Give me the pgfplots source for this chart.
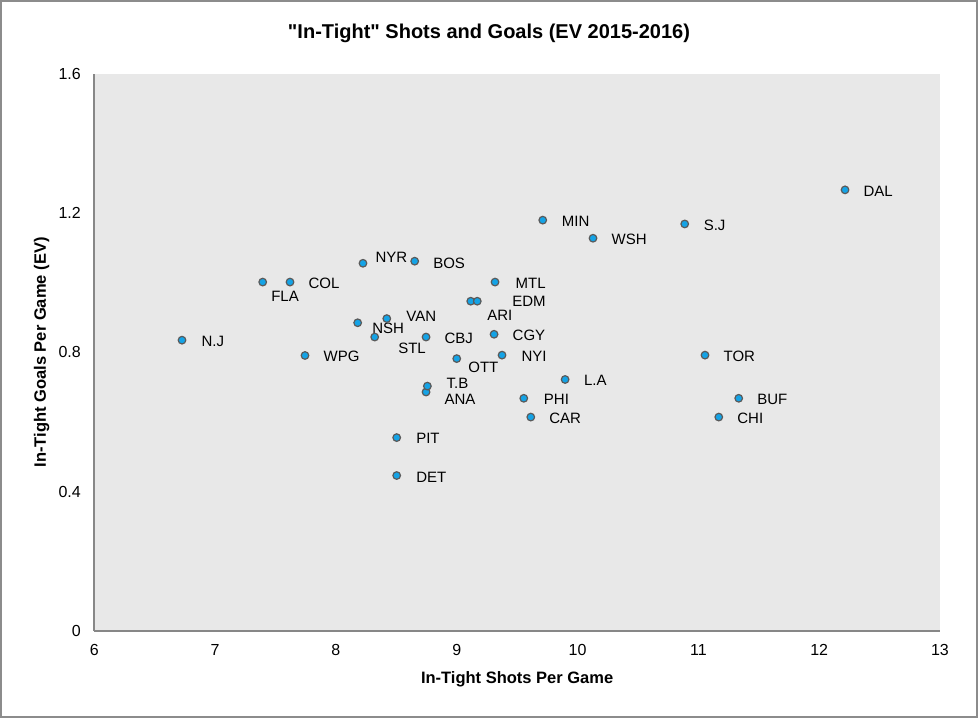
\documentclass[border=0pt]{standalone}
\usepackage{fontspec}
\setmainfont{Liberation Sans}
\usepackage{pgfplots}
\usepackage{pgfplotstable}
\pgfplotsset{compat=1.18}
\definecolor{bggray}{HTML}{E8E8E8}
\definecolor{axgray}{HTML}{878787}
\definecolor{framegray}{HTML}{8C8C8C}
\definecolor{dotblue}{RGB}{20,163,230}
\definecolor{dotedge}{HTML}{5A5A5A}
\pgfplotstableread{
x y label dx dy
6.726 0.835 N.J 19 -1
7.394 1.002 FLA 8 -14
7.620 1.002 COL 18 -1
7.744 0.791 WPG 18 -1
8.180 0.885 NSH 14 -5.4
8.224 1.056 NYR 12 6
8.321 0.844 STL 23 -11
8.421 0.897 VAN 19 2
8.503 0.555 PIT 19 -1
8.503 0.446 DET 19 -1.5
8.652 1.062 BOS 18 -2
8.746 0.844 CBJ 18 -1
8.746 0.686 ANA 18 -7.3
8.757 0.703 T.B 18.7 3
9.000 0.782 OTT 11 -8.4
9.116 0.947 ARI 16 -14
9.170 0.947 EDM 34.4 0
9.309 0.852 CGY 18 -1
9.317 1.002 MTL 20 -1
9.375 0.792 NYI 19 -1
9.555 0.668 PHI 19.6 -1
9.613 0.614 CAR 18 -1
9.712 1.180 MIN 18.5 -1.5
9.897 0.722 L.A 18.3 -1
10.128 1.128 WSH 18 -1
10.887 1.169 S.J 18.5 -1.5
11.055 0.792 TOR 18 -1
11.169 0.614 CHI 18 -1
11.334 0.668 BUF 18 -1
12.214 1.267 DAL 18 -1
}\datatable
\begin{document}
\begin{tikzpicture}
\useasboundingbox (-94.3pt,-87.3pt) rectangle (883.7pt,630.7pt);
\draw[framegray, line width=2.5pt] (-93.05pt,-86.05pt) rectangle (882.45pt,629.45pt);
\begin{axis}[
  scale only axis,
  width=845.7pt, height=556.7pt,
  xmin=6, xmax=13, ymin=0, ymax=1.6,
  axis x line*=bottom, axis y line*=left,
  x axis line style={axgray, line width=2pt},
  y axis line style={axgray, line width=1.6pt},
  axis background/.style={fill=bggray},
  tick style={draw=none},
  xtick={6,7,8,9,10,11,12,13},
  xticklabels={6,7,8,9,10,11,12,13},
  ytick={0,0.4,0.8,1.2,1.6},
  yticklabels={0,0.4,0.8,1.2,1.6},
  tick label style={font=\fontsize{16}{19}\selectfont},
  x tick label style={anchor=north, yshift=-10.5pt},
  y tick label style={anchor=east, xshift=-10pt},
  clip=false,
]
\addplot[only marks, mark=*, mark size=3.8pt,
  mark options={fill=dotblue, draw=dotedge, line width=1.2pt},
  point meta=explicit symbolic,
  visualization depends on={\thisrow{dx} \as \dx},
  visualization depends on={\thisrow{dy} \as \dy},
  nodes near coords,
  nodes near coords style={anchor=west, inner sep=0pt, xshift=\dx pt, yshift=\dy pt,
    font=\fontsize{15}{18}\selectfont, text=black},
] table[x=x, y=y, meta=label] {\datatable};
\end{axis}
\node[font=\fontsize{20}{24}\selectfont\bfseries] at (394.7pt,597.7pt) {\textquotedbl In-Tight\textquotedbl\ Shots and Goals (EV 2015-2016)};
\node[font=\fontsize{16.5}{20}\selectfont\bfseries] at (422.85pt,-48.3pt) {In-Tight Shots Per Game};
\node[font=\fontsize{16.5}{20}\selectfont\bfseries, rotate=90] at (-52.6pt,278.3pt) {In-Tight Goals Per Game (EV)};
\end{tikzpicture}
\end{document}
